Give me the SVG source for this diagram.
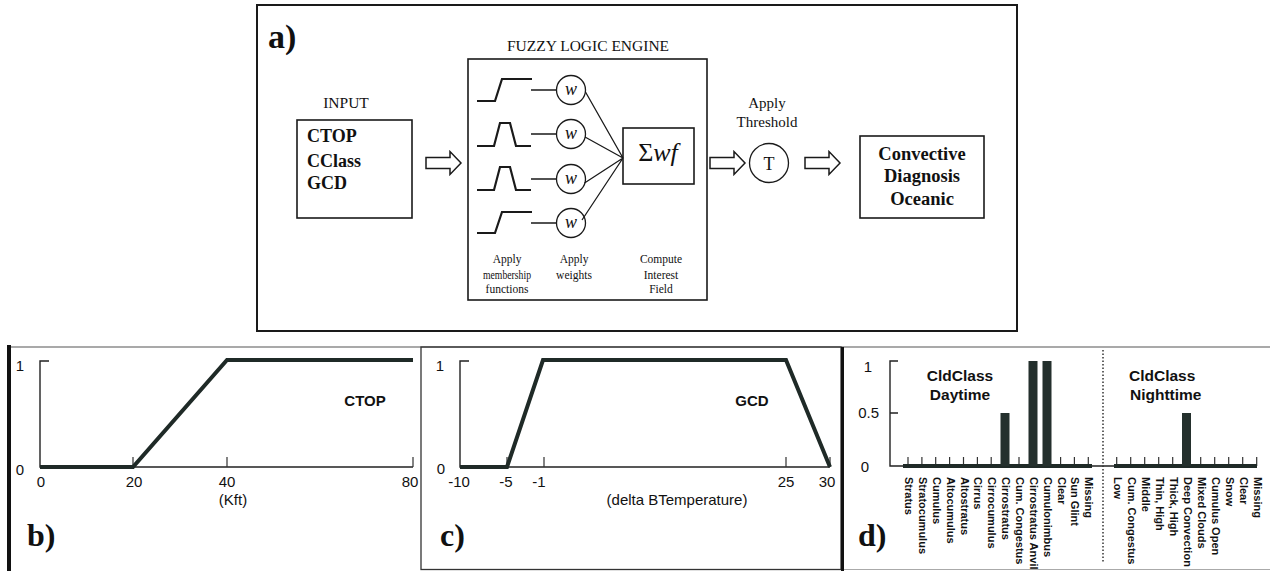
<svg xmlns="http://www.w3.org/2000/svg" width="1270" height="571" viewBox="0 0 1270 571">
<style>
.serif{font-family:"Liberation Serif","Times New Roman",serif;fill:#111}
.sans{font-family:"Liberation Sans",Arial,sans-serif;fill:#111}
.box{fill:none;stroke:#1a1a1a;stroke-width:1.6}
.ln{fill:none;stroke:#1a1a1a;stroke-width:1.3}
.mf{fill:none;stroke:#1a1a1a;stroke-width:2.2}
.harrow{fill:#fff;stroke:#1a1a1a;stroke-width:1.5}
.curve{fill:none;stroke:#1f2a27;stroke-width:4}
.axis{fill:none;stroke:#222;stroke-width:1.4}
.tick{fill:none;stroke:#333;stroke-width:1.2}
.bar{fill:#24302d}
.cat{font-family:"Liberation Sans",Arial,sans-serif;font-size:11px;font-weight:bold;fill:#111}
.lbl{font-family:"Liberation Sans",Arial,sans-serif;font-size:15px;fill:#111}
.small{font-family:"Liberation Serif","Times New Roman",serif;font-size:11.5px;fill:#111}
.panel{font-family:"Liberation Serif","Times New Roman",serif;font-size:32px;font-weight:bold;fill:#111}
</style>

<!-- Panel a -->
<g id="panel-a">
  <rect x="257" y="5" width="760" height="326" fill="none" stroke="#1a1a1a" stroke-width="2"/>
  <text class="serif" x="268" y="48" font-size="34" font-weight="bold">a)</text>
</g>

<g id="input">
  <text class="serif" x="346" y="108" font-size="15.5" text-anchor="middle">INPUT</text>
  <rect class="box" x="297" y="120" width="115" height="98"/>
  <text class="serif" x="307" y="142" font-size="18" font-weight="bold">CTOP</text>
  <text class="serif" x="307" y="167" font-size="18" font-weight="bold">CClass</text>
  <text class="serif" x="307" y="189" font-size="18" font-weight="bold">GCD</text>
</g>

<g id="fuzzy-logic-engine">
  <text class="serif" x="588" y="51" font-size="15.5" text-anchor="middle">FUZZY LOGIC ENGINE</text>
  <rect class="box" x="468" y="59" width="239" height="241"/>
  <path class="mf" d="M477,101 H495 L502,79 H532"/>
  <path class="mf" d="M477,146 H494 L500,123 H510 L516,146 H531"/>
  <path class="mf" d="M477,190 H494 L500,167 H510 L516,190 H531"/>
  <path class="mf" d="M477,233 H495 L502,212 H532"/>
  <text class="small" text-anchor="middle"><tspan x="507" y="263">Apply</tspan><tspan x="507" y="279" textLength="48" lengthAdjust="spacingAndGlyphs">membership</tspan><tspan x="507" y="293">functions</tspan></text>
  <text class="small" text-anchor="middle"><tspan x="574" y="263">Apply</tspan><tspan x="574" y="279">weights</tspan></text>
  <text class="small" text-anchor="middle"><tspan x="661" y="263">Compute</tspan><tspan x="661" y="279">Interest</tspan><tspan x="661" y="293">Field</tspan></text>
</g>

<g id="weight-1"><circle class="ln" cx="571" cy="90" r="14.5"/><text class="serif" x="571" y="95" font-size="18" font-style="italic" text-anchor="middle">w</text></g>
<g id="weight-2"><circle class="ln" cx="571" cy="134" r="14.5"/><text class="serif" x="571" y="139" font-size="18" font-style="italic" text-anchor="middle">w</text></g>
<g id="weight-3"><circle class="ln" cx="571" cy="179" r="14.5"/><text class="serif" x="571" y="184" font-size="18" font-style="italic" text-anchor="middle">w</text></g>
<g id="weight-4"><circle class="ln" cx="571" cy="223" r="14.5"/><text class="serif" x="571" y="228" font-size="18" font-style="italic" text-anchor="middle">w</text></g>

<g id="sum">
  <rect class="box" x="623" y="128" width="71" height="56"/>
  <text class="serif" x="658" y="161" font-size="26" text-anchor="middle">Σ<tspan font-style="italic">wf</tspan></text>
</g>

<g id="threshold">
  <text class="serif" font-size="15" text-anchor="middle"><tspan x="767" y="108">Apply</tspan><tspan x="767" y="127">Threshold</tspan></text>
  <circle class="ln" cx="769" cy="163" r="19.5"/>
  <text class="serif" x="769" y="169.5" font-size="18" text-anchor="middle">T</text>
</g>

<g id="output">
  <rect class="box" x="860" y="136" width="124" height="82"/>
  <text class="serif" font-size="18.5" font-weight="bold" text-anchor="middle"><tspan x="922" y="160">Convective</tspan><tspan x="922" y="182">Diagnosis</tspan><tspan x="922" y="205">Oceanic</tspan></text>
</g>

<g id="connectors">
  <path class="harrow" d="M426,157.5 H450 V151.5 L461,163 L450,174.5 V168.5 H426 Z"/>
  <path class="harrow" d="M710,157.5 H734 V151.5 L745,163 L734,174.5 V168.5 H710 Z"/>
  <path class="harrow" d="M805,157.5 H829 V151.5 L840,163 L829,174.5 V168.5 H805 Z"/>
  <path class="ln" d="M531,90 H556.5 M531,134 H556.5 M531,179 H556.5 M531,223 H556.5"/>
  <path class="ln" d="M585.5,92 L623,158 M585,137 L623,158 M584.5,183 L623,158 M582,220 L623,158"/>
</g>

<!-- bottom frames -->
<g id="frames">
  <line x1="7" y1="347" x2="1270" y2="347" stroke="#555" stroke-width="1.2"/>
  <rect x="7" y="345" width="4" height="226" fill="#111"/>
  <rect x="421" y="347" width="420" height="222.5" fill="none" stroke="#333" stroke-width="1.3"/>
  <rect x="841" y="347" width="3" height="224" fill="#111"/>
  <line x1="844" y1="569.5" x2="1270" y2="569.5" stroke="#aaa" stroke-width="1"/>
</g>

<!-- Panel b -->
<g id="panel-b">
  <path class="axis" d="M49,361 H40 V467 H413"/>
  <path class="tick" d="M133,457 V467 M227,457 V467 M413,457 V467"/>
  <path class="curve" d="M40,467 H133 L227,360 H413"/>
  <text class="lbl" x="20" y="371" text-anchor="middle">1</text>
  <text class="lbl" x="20" y="475" text-anchor="middle">0</text>
  <text class="lbl" x="41" y="487" text-anchor="middle">0</text>
  <text class="lbl" x="134" y="487" text-anchor="middle">20</text>
  <text class="lbl" x="227" y="487" text-anchor="middle">40</text>
  <text class="lbl" x="410" y="487" text-anchor="middle">80</text>
  <text class="lbl" x="233" y="505" text-anchor="middle">(Kft)</text>
  <text class="lbl" x="365" y="406" text-anchor="middle" font-weight="bold">CTOP</text>
  <text class="panel" x="27" y="546">b)</text>
</g>

<!-- Panel c -->
<g id="panel-c">
  <path class="axis" d="M469,361 H460 V467 H830"/>
  <path class="tick" d="M507,457 V467 M544,457 V467 M786,457 V467 M830,457 V467"/>
  <path class="curve" d="M460,467 H507 L543,360 H786 L830,467"/>
  <text class="lbl" x="440" y="371" text-anchor="middle">1</text>
  <text class="lbl" x="441" y="474" text-anchor="middle">0</text>
  <text class="lbl" x="459" y="487" text-anchor="middle">-10</text>
  <text class="lbl" x="506" y="487" text-anchor="middle">-5</text>
  <text class="lbl" x="539" y="487" text-anchor="middle">-1</text>
  <text class="lbl" x="786" y="487" text-anchor="middle">25</text>
  <text class="lbl" x="827" y="487" text-anchor="middle">30</text>
  <text class="lbl" x="677" y="505" text-anchor="middle">(delta BTemperature)</text>
  <text class="lbl" x="752" y="406" text-anchor="middle" font-weight="bold">GCD</text>
  <text class="panel" x="440" y="546">c)</text>
</g>

<!-- Panel d -->
<g id="panel-d">
  <path class="axis" d="M898,361 H890 V466 H1257 M890,413 H898"/>
  <path fill="none" stroke="#333" stroke-width="1.5" stroke-dasharray="1.5,2" d="M1103,350 V562"/>
  <path class="tick" d="M908,457V466 M921.9,457V466 M935.7,457V466 M949.6,457V466 M963.5,457V466 M977.4,457V466 M991.2,457V466 M1005.1,457V466 M1019,457V466 M1032.8,457V466 M1046.7,457V466 M1060.6,457V466 M1074.4,457V466 M1088.3,457V466 M1116.7,457V466 M1130.7,457V466 M1144.7,457V466 M1158.7,457V466 M1172.7,457V466 M1186.7,457V466 M1200.7,457V466 M1214.7,457V466 M1228.7,457V466 M1242.7,457V466 M1256.7,457V466"/>
  <path class="curve" d="M903,466 H1092 M1114,466 H1257"/>
  <rect class="bar" x="1000.5" y="413" width="9" height="53"/>
  <rect class="bar" x="1028.5" y="361" width="9" height="105"/>
  <rect class="bar" x="1042.5" y="361" width="9" height="105"/>
  <rect class="bar" x="1182" y="413" width="9" height="53"/>
  <text class="lbl" x="872" y="372" text-anchor="end">1</text>
  <text class="lbl" x="879" y="418" text-anchor="end">0.5</text>
  <text class="lbl" x="869" y="472" text-anchor="end">0</text>
  <text class="sans" font-size="15.5" font-weight="bold" text-anchor="middle"><tspan x="960" y="381">CldClass</tspan><tspan x="960" y="400">Daytime</tspan></text>
  <text class="sans" font-size="15.5" font-weight="bold"><tspan x="1129" y="381">CldClass</tspan><tspan x="1130" y="400">Nighttime</tspan></text>
  <text class="cat" transform="translate(905,477) rotate(90)">Stratus</text>
  <text class="cat" transform="translate(918.9,477) rotate(90)">Stratocumulus</text>
  <text class="cat" transform="translate(932.7,477) rotate(90)">Cumulus</text>
  <text class="cat" transform="translate(946.6,477) rotate(90)">Altocumulus</text>
  <text class="cat" transform="translate(960.5,477) rotate(90)">Altostratus</text>
  <text class="cat" transform="translate(974.4,477) rotate(90)">Cirrus</text>
  <text class="cat" transform="translate(988.2,477) rotate(90)">Cirrocumulus</text>
  <text class="cat" transform="translate(1002.1,477) rotate(90)">Cirrostratus</text>
  <text class="cat" transform="translate(1016,477) rotate(90)">Cum. Congestus</text>
  <text class="cat" transform="translate(1029.8,477) rotate(90)">Cirrostratus Anvil</text>
  <text class="cat" transform="translate(1043.7,477) rotate(90)">Cumulonimbus</text>
  <text class="cat" transform="translate(1057.6,477) rotate(90)">Clear</text>
  <text class="cat" transform="translate(1071.4,477) rotate(90)">Sun Glint</text>
  <text class="cat" transform="translate(1085.3,477) rotate(90)">Missing</text>
  <text class="cat" transform="translate(1113.7,477) rotate(90)">Low</text>
  <text class="cat" transform="translate(1127.7,477) rotate(90)">Cum. Congestus</text>
  <text class="cat" transform="translate(1141.7,477) rotate(90)">Middle</text>
  <text class="cat" transform="translate(1155.7,477) rotate(90)">Thin, High</text>
  <text class="cat" transform="translate(1169.7,477) rotate(90)">Thick, High</text>
  <text class="cat" transform="translate(1183.7,477) rotate(90)">Deep Convection</text>
  <text class="cat" transform="translate(1197.7,477) rotate(90)">Mixed Clouds</text>
  <text class="cat" transform="translate(1211.7,477) rotate(90)">Cumulus Open</text>
  <text class="cat" transform="translate(1225.7,477) rotate(90)">Snow</text>
  <text class="cat" transform="translate(1239.7,477) rotate(90)">Clear</text>
  <text class="cat" transform="translate(1253.7,477) rotate(90)">Missing</text>
  <text class="panel" x="858" y="546">d)</text>
</g>
</svg>
